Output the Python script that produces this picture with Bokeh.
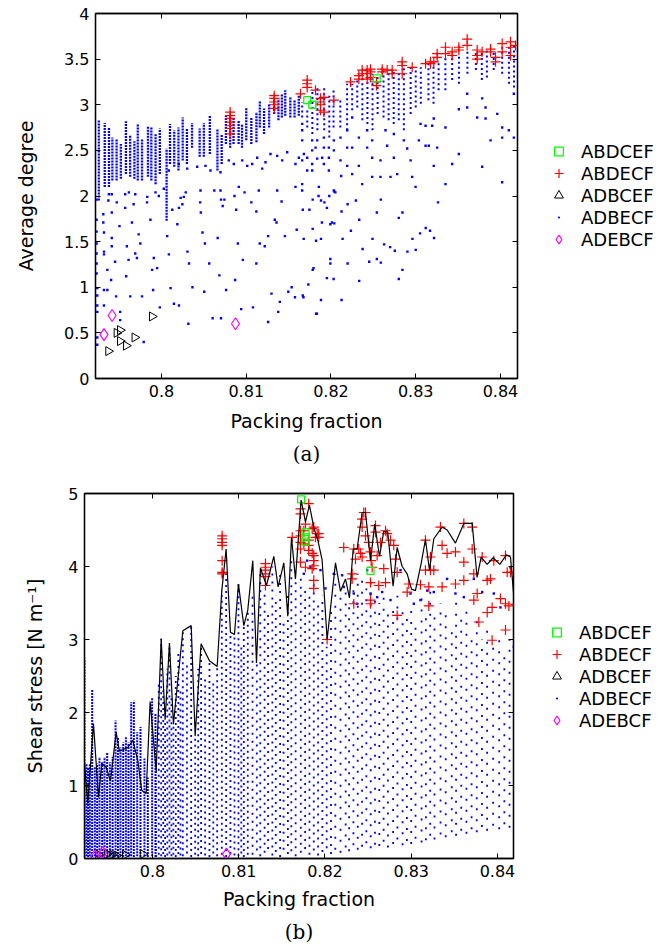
import math
from bokeh.plotting import figure
from bokeh.models import (Range1d, LinearAxis, FixedTicker, Legend, LegendItem,
                          Title, CustomJSTickFormatter)
from bokeh.layouts import column, row
from bokeh.embed import file_html
from bokeh.resources import INLINE

# ------------------------------------------------------------------ data
SERIES = ["ABDCEF", "ABDECF", "ADBCEF", "ADBECF", "ADEBCF"]
X_TICKS = [0.80, 0.81, 0.82, 0.83, 0.84]
X_TICK_LABELS = ["0.8", "0.81", "0.82", "0.83", "0.84"]
A_Y_TICKS = [0, 0.5, 1, 1.5, 2, 2.5, 3, 3.5, 4]
A_Y_TICK_LABELS = ["0", "0.5", "1", "1.5", "2", "2.5", "3", "3.5", "4"]
B_Y_TICKS = [0, 1, 2, 3, 4, 5]
B_Y_TICK_LABELS = ["0", "1", "2", "3", "4", "5"]

# ---- panel (a): average degree
# ADBECF, densely filled columns (packing fraction, lowest, highest value)
A_DENSE_X = [0.7926, 0.7933, 0.7938, 0.7942, 0.7947, 0.7952, 0.7958, 0.7963, 0.7968, 0.7972,
             0.7977, 0.7984, 0.7988, 0.7993, 0.7998, 0.8006, 0.8010, 0.8015, 0.8020, 0.8025,
             0.8030, 0.8036, 0.8045, 0.8050, 0.8057, 0.8066, 0.8071, 0.8076, 0.8081, 0.8085,
             0.8091, 0.8095, 0.8100, 0.8106, 0.8112, 0.8116, 0.8121, 0.8127, 0.8133, 0.8138,
             0.8142, 0.8146, 0.8152, 0.8157, 0.8162]
A_DENSE_LO = [1.95, 2.10, 2.10, 2.17, 2.17, 2.19, 2.24, 2.21, 2.19, 2.17,
              2.17, 2.21, 2.17, 2.13, 2.24, 1.73, 2.35, 2.32, 2.28, 2.39,
              2.35, 2.53, 2.43, 2.43, 2.46, 2.28, 2.35, 2.57, 2.53, 2.57,
              2.57, 2.53, 2.61, 2.57, 2.59, 2.75, 2.68, 2.75, 2.90, 2.83,
              2.86, 2.88, 2.86, 2.86, 2.88]
A_DENSE_HI = [2.83, 2.80, 2.75, 2.64, 2.63, 2.57, 2.82, 2.66, 2.60, 2.79,
              2.63, 2.77, 2.75, 2.68, 2.74, 2.52, 2.79, 2.72, 2.75, 2.86,
              2.74, 2.80, 2.74, 2.80, 2.88, 2.74, 2.68, 2.88, 2.87, 2.86,
              2.83, 2.79, 2.97, 2.86, 2.92, 3.04, 2.96, 3.01, 3.08, 3.07,
              3.12, 3.16, 3.08, 3.05, 3.10]
# ADBECF, looser columns at high packing fraction
A_COL_X = [0.8166, 0.8172, 0.8178, 0.8184, 0.8192, 0.8198, 0.8203, 0.8211, 0.8219, 0.8225,
           0.8231, 0.8237, 0.8243, 0.8249, 0.8255, 0.8262, 0.8268, 0.8274, 0.8280, 0.8286,
           0.8294, 0.8300, 0.8306, 0.8315, 0.8321, 0.8327, 0.8335, 0.8343, 0.8351, 0.8361,
           0.8371, 0.8378, 0.8384, 0.8392, 0.8402, 0.8410, 0.8416]
A_COL_LO = [2.86, 2.75, 2.68, 2.72, 2.72, 2.64, 2.75, 2.75, 2.72, 2.94,
            2.97, 2.83, 2.79, 2.72, 2.90, 2.86, 2.83, 2.79, 2.83, 2.72,
            2.90, 2.97, 3.01, 3.05, 3.01, 3.16, 3.16, 3.27, 3.23, 3.34,
            3.38, 3.27, 3.30, 3.38, 3.34, 3.23, 3.19]
A_COL_HI = [3.03, 2.97, 3.17, 3.19, 3.19, 3.10, 3.19, 3.08, 3.23, 3.23,
            3.30, 3.30, 3.34, 3.34, 3.34, 3.38, 3.38, 3.38, 3.38, 3.41,
            3.41, 3.41, 3.41, 3.45, 3.45, 3.49, 3.52, 3.54, 3.56, 3.60,
            3.60, 3.60, 3.60, 3.60, 3.63, 3.63, 3.67]
# ADBECF, isolated points
A_DOTS = [
    (0.79234, 1.96), (0.79234, 1.74), (0.79234, 1.61), (0.79234, 1.48), (0.79234, 1.37),
    (0.79234, 1.26), (0.79234, 1.15), (0.79242, 0.99), (0.79242, 0.91), (0.79242, 0.80),
    (0.79242, 0.73), (0.79242, 0.45), (0.79242, 0.37), (0.79313, 1.80), (0.79313, 1.71),
    (0.79321, 1.60), (0.79321, 1.39), (0.79321, 1.36), (0.79321, 0.97), (0.79321, 0.80),
    (0.79373, 1.95), (0.79361, 1.19), (0.79361, 0.97), (0.79413, 2.02), (0.79413, 1.82),
    (0.79413, 1.54), (0.79413, 1.45), (0.79405, 1.08), (0.79452, 1.28), (0.79464, 0.90),
    (0.79472, 1.93), (0.79504, 1.67), (0.79512, 0.73), (0.79512, 0.64), (0.79571, 2.02),
    (0.79571, 1.87), (0.79583, 1.12), (0.79591, 1.45), (0.79611, 1.30), (0.79631, 0.90),
    (0.79651, 1.71), (0.79671, 1.91), (0.79690, 2.02), (0.79690, 1.37), (0.79710, 1.32),
    (0.79730, 1.58), (0.79750, 1.48), (0.79770, 0.90), (0.79790, 0.40), (0.79829, 1.93),
    (0.79869, 1.74), (0.79889, 1.19), (0.79901, 0.97), (0.79909, 1.32), (0.79948, 1.21),
    (0.79929, 2.04), (0.79968, 2.00), (0.79980, 0.78), (0.80067, 1.56), (0.80087, 1.36),
    (0.80107, 0.99), (0.80147, 0.82), (0.80127, 1.85), (0.80187, 1.69), (0.80206, 1.87),
    (0.80226, 1.98), (0.80206, 0.80), (0.80246, 1.91), (0.80286, 2.04), (0.80306, 1.39),
    (0.80317, 0.60), (0.80325, 1.26), (0.80365, 1.00), (0.80456, 1.93), (0.80464, 1.82),
    (0.80484, 1.60), (0.80504, 0.95), (0.80512, 1.48), (0.80563, 1.26), (0.80603, 0.66),
    (0.80623, 2.06), (0.80663, 1.54), (0.80683, 1.13), (0.80702, 0.66), (0.80702, 1.96),
    (0.80722, 1.89), (0.80742, 1.96), (0.80762, 0.97), (0.80861, 2.00), (0.80869, 1.08),
    (0.80881, 1.85), (0.80901, 1.48), (0.80940, 0.76), (0.80960, 1.30), (0.80980, 2.04),
    (0.81060, 1.93), (0.81079, 0.78), (0.81119, 1.83), (0.81119, 1.26), (0.81159, 1.48),
    (0.81218, 1.45), (0.81258, 1.56), (0.81258, 0.62), (0.81298, 0.93), (0.81337, 1.74),
    (0.81357, 1.71), (0.81377, 0.73), (0.81397, 0.84), (0.81417, 1.94), (0.81456, 1.56),
    (0.81496, 0.95), (0.81536, 1.00), (0.81575, 0.89), (0.81595, 1.63), (0.81675, 0.89),
    (0.81794, 1.21), (0.81833, 0.71), (0.81853, 2.00), (0.81893, 1.71), (0.81952, 1.87),
    (0.82012, 1.71), (0.81952, 1.10), (0.81992, 1.26), (0.82052, 2.04),
    (0.81667, 1.85), (0.81745, 1.85), (0.81784, 1.96), (0.81882, 1.95), (0.81922, 1.93),
    (0.81980, 2.00), (0.82039, 2.05), (0.81678, 1.53), (0.81784, 1.64), (0.81824, 1.51),
    (0.81882, 1.53), (0.81992, 1.69), (0.82039, 1.70), (0.82125, 1.83), (0.82196, 1.91),
    (0.82294, 1.95), (0.82137, 1.53), (0.82235, 1.62), (0.82333, 1.74), (0.82541, 1.82),
    (0.82588, 1.96), (0.82490, 1.53), (0.82373, 1.42), (0.82451, 1.28), (0.82541, 1.31),
    (0.82588, 1.27), (0.82627, 1.47), (0.82698, 1.44), (0.82753, 1.40), (0.82800, 1.76),
    (0.82843, 1.82), (0.82961, 1.53), (0.82902, 1.39), (0.83000, 1.41), (0.83051, 1.59),
    (0.83118, 1.65), (0.83169, 1.62), (0.83216, 1.54), (0.83263, 1.93), (0.81992, 1.31),
    (0.82196, 1.26), (0.81784, 1.19), (0.81733, 1.03), (0.82031, 1.09), (0.82333, 1.07),
    (0.81667, 0.91), (0.81882, 0.86), (0.82125, 0.86), (0.81824, 0.71), (0.82843, 1.19),
    (0.82800, 1.09),
    (0.81660, 2.79), (0.81660, 2.72), (0.81660, 2.61), (0.81660, 2.39), (0.81660, 2.13),
    (0.81719, 2.42), (0.81719, 2.28), (0.81778, 2.61), (0.81778, 2.50), (0.81778, 2.28),
    (0.81837, 2.61), (0.81837, 2.41), (0.81857, 2.10), (0.81916, 2.64), (0.81916, 2.53),
    (0.81916, 2.35), (0.81975, 2.53), (0.81975, 2.42), (0.81975, 2.28), (0.82034, 2.61),
    (0.82034, 2.50), (0.82034, 2.06), (0.82112, 2.64), (0.82112, 2.39), (0.82120, 2.22),
    (0.82191, 2.72), (0.82191, 2.53), (0.82191, 2.33), (0.82250, 2.86), (0.82250, 2.53),
    (0.82250, 2.24), (0.82329, 2.64), (0.82329, 2.33), (0.82368, 2.13), (0.82427, 2.72),
    (0.82427, 2.53), (0.82486, 2.61), (0.82486, 2.42), (0.82486, 2.21), (0.82584, 2.39),
    (0.82584, 2.21), (0.82643, 2.72), (0.82663, 2.55), (0.82702, 2.21), (0.82742, 2.68),
    (0.82742, 2.42), (0.82781, 2.24), (0.82860, 2.61), (0.82899, 2.52), (0.82939, 2.39),
    (0.82958, 2.21), (0.82998, 2.10), (0.83037, 2.61), (0.83057, 2.79), (0.83116, 2.55),
    (0.83116, 2.77), (0.83154, 2.55), (0.83194, 2.77), (0.83213, 2.85), (0.83213, 2.33),
    (0.83253, 2.53), (0.83351, 2.75), (0.83351, 2.13), (0.83430, 2.35), (0.83509, 2.95),
    (0.83509, 2.46), (0.83607, 3.12), (0.83607, 2.97), (0.83725, 2.86), (0.83784, 3.07),
    (0.83784, 2.32), (0.83824, 2.97), (0.83824, 2.85), (0.83883, 2.61), (0.83962, 2.90),
    (0.84020, 2.75), (0.84020, 2.64), (0.84020, 2.15), (0.84099, 2.72), (0.84158, 2.64),
    (0.84158, 3.12),
    (0.80086, 2.28), (0.80204, 2.35), (0.80303, 2.30), (0.80421, 2.32), (0.80519, 2.33),
    (0.80578, 2.28), (0.80696, 2.26), (0.80794, 2.39), (0.80853, 2.35), (0.80952, 2.39),
    (0.81011, 2.33), (0.81070, 2.35), (0.81129, 2.42), (0.81188, 2.30), (0.81227, 2.37),
    (0.81286, 2.46), (0.81365, 2.44), (0.81424, 2.39), (0.81483, 2.48), (0.81581, 2.35),
    (0.81621, 2.42), (0.81680, 2.46), (0.81778, 2.35), (0.81818, 2.53), (0.81896, 2.42),
    (0.79379, 2.02), (0.79615, 2.04), (0.79832, 1.99), (0.80027, 2.08), (0.80263, 1.99),
    (0.80460, 2.06), (0.80696, 2.06), (0.80912, 2.10), (0.81148, 2.06), (0.81365, 2.06),
    (0.81581, 2.10), (0.81660, 2.06),
]
# ABDECF
A_RED = [
    (0.8081, 2.92), (0.8081, 2.88), (0.8081, 2.85), (0.8081, 2.81), (0.8081, 2.77),
    (0.8081, 2.74), (0.8081, 2.68), (0.8133, 3.10), (0.8133, 3.07), (0.8133, 3.03),
    (0.8133, 3.00), (0.8133, 2.96),
    (0.81719, 3.27), (0.81719, 3.23), (0.81719, 3.19), (0.81817, 3.16), (0.81640, 3.12),
    (0.81876, 3.07), (0.81876, 3.03), (0.81876, 3.00), (0.81876, 2.94), (0.81916, 3.08),
    (0.81916, 2.92), (0.82034, 3.05), (0.82231, 3.25), (0.82329, 3.32), (0.82329, 3.28),
    (0.82368, 3.38), (0.82368, 3.34), (0.82427, 3.38), (0.82427, 3.34), (0.82427, 3.28),
    (0.82466, 3.39), (0.82466, 3.36), (0.82466, 3.30), (0.82537, 3.25), (0.82537, 3.21),
    (0.82604, 3.39), (0.82604, 3.36), (0.82663, 3.38), (0.82722, 3.38), (0.82722, 3.34),
    (0.82840, 3.47), (0.82840, 3.43), (0.82840, 3.34), (0.82958, 3.41), (0.83116, 3.45),
    (0.83174, 3.47), (0.83174, 3.45), (0.83213, 3.47), (0.83253, 3.56), (0.83253, 3.52),
    (0.83351, 3.63), (0.83351, 3.56), (0.83430, 3.58), (0.83430, 3.54), (0.83509, 3.63),
    (0.83509, 3.60), (0.83607, 3.72), (0.83607, 3.65), (0.83725, 3.60), (0.83725, 3.54),
    (0.83725, 3.50), (0.83784, 3.58), (0.83883, 3.61), (0.83883, 3.58), (0.83942, 3.52),
    (0.83942, 3.47), (0.84020, 3.67), (0.84020, 3.58), (0.84119, 3.69), (0.84119, 3.63),
    (0.84119, 3.54), (0.84178, 3.65),
]
A_GREEN = [(0.8172, 3.05), (0.8178, 3.00), (0.8254, 3.29)]                  # ABDCEF
A_TRI = [(0.79373, 0.30), (0.79472, 0.50), (0.79512, 0.53), (0.79512, 0.41),
         (0.79583, 0.36), (0.79683, 0.45), (0.79889, 0.68)]                  # ADBCEF
A_DIA = [(0.79321, 0.48), (0.79417, 0.69), (0.80873, 0.60)]                  # ADEBCF

# ---- panel (b): shear stress
B_DENSE_X = [0.79211, 0.79235, 0.79254, 0.79274, 0.79301, 0.79332, 0.79359, 0.79386, 0.79417,
             0.79444, 0.79475, 0.79507, 0.79538, 0.79572, 0.79600, 0.79629, 0.79661, 0.79692,
             0.79722, 0.79753, 0.79784, 0.79823, 0.79861, 0.79907, 0.79946, 0.79996, 0.80035]
B_DENSE_LO = [0.02, 0.03, 0.02, 0.03, 0.02, 0.03, 0.02, 0.03, 0.02,
              0.03, 0.02, 0.03, 0.02, 0.03, 0.02, 0.03, 0.02, 0.03,
              0.02, 0.03, 0.02, 0.03, 0.02, 0.03, 0.02, 0.03, 0.02]
B_DENSE_HI = [2.75, 1.30, 1.25, 1.30, 2.32, 1.25, 1.30, 1.39, 1.32,
              1.39, 1.46, 1.32, 1.39, 1.89, 1.66, 1.52, 1.59, 1.66,
              1.59, 2.14, 2.16, 1.73, 1.80, 1.37, 1.11, 2.20, 1.98]
B_MED_X = [0.80043, 0.80073, 0.80101, 0.80125, 0.80147, 0.80172, 0.80197, 0.80220, 0.80243,
           0.80270, 0.80300, 0.80325, 0.80352, 0.80400, 0.80449, 0.80495, 0.80530, 0.80564,
           0.80610, 0.80661, 0.80705, 0.80750, 0.80804, 0.80854, 0.80904, 0.80951, 0.80997,
           0.81030, 0.81059, 0.81105]
B_MED_LO = [0.02, 0.05, 0.03, 0.06, 0.02, 0.04, 0.07, 0.03, 0.05, 0.02,
            0.06, 0.04, 0.03, 0.07, 0.02, 0.05, 0.03, 0.06, 0.04, 0.02,
            0.07, 0.03, 0.05, 0.02, 0.06, 0.04, 0.03, 0.07, 0.02, 0.05]
B_MED_HI = [1.20, 2.40, 3.01, 2.30, 1.90, 2.60, 2.95, 2.20, 1.84, 2.50,
            2.80, 2.30, 3.12, 2.70, 3.19, 1.68, 2.60, 2.94, 2.50, 2.71,
            2.40, 2.63, 3.67, 3.90, 3.10, 3.07, 3.76, 2.90, 3.19, 3.40]
B_SPARSE_X = [0.8116, 0.8121, 0.8125, 0.8130, 0.8134, 0.8139, 0.8143, 0.8148, 0.8152, 0.8157,
              0.8161, 0.8166, 0.8172, 0.8177, 0.8182, 0.8187, 0.8192, 0.8197, 0.8202, 0.8207,
              0.8212, 0.8218, 0.8224, 0.8228, 0.8233, 0.8238, 0.8243, 0.8248, 0.8253, 0.8258,
              0.8263, 0.8268, 0.8273, 0.8279, 0.8284, 0.8290, 0.8295, 0.8300, 0.8305, 0.8312,
              0.8317, 0.8322, 0.8327, 0.8334, 0.8340, 0.8347, 0.8352, 0.8358, 0.8364, 0.8370,
              0.8376, 0.8382, 0.8388, 0.8395, 0.8402, 0.8408, 0.8414, 0.8419]
B_SPARSE_LO = [0.05, 0.11, 0.03, 0.08, 0.13, 0.04, 0.09, 0.02, 0.12, 0.06,
               0.10, 0.03, 0.08, 0.13, 0.05, 0.11, 0.04, 0.09, 0.14, 0.06,
               0.12, 0.08, 0.15, 0.10, 0.18, 0.12, 0.16, 0.21, 0.14, 0.19,
               0.17, 0.23, 0.15, 0.20, 0.26, 0.18, 0.24, 0.20, 0.27, 0.22,
               0.25, 0.31, 0.26, 0.33, 0.29, 0.36, 0.31, 0.38, 0.34, 0.40,
               0.36, 0.43, 0.38, 0.45, 0.40, 0.47, 0.42, 0.48]
B_SPARSE_HI = [3.60, 2.70, 3.90, 3.70, 3.40, 4.00, 3.60, 3.90, 3.30, 3.60,
               4.10, 3.80, 3.90, 3.70, 3.60, 3.80, 3.50, 3.60, 2.90, 3.40,
               3.90, 3.60, 3.70, 3.50, 3.80, 3.90, 3.85, 3.70, 3.80, 3.60,
               3.50, 3.70, 3.40, 3.50, 3.60, 3.40, 3.30, 3.50, 3.20, 3.60,
               3.40, 3.70, 3.30, 3.50, 3.40, 3.20, 3.60, 3.30, 3.40, 3.10,
               3.30, 3.00, 3.20, 2.90, 3.10, 2.80, 3.00, 3.20]
B_DOTS = [
    (0.81755, 3.90), (0.81793, 4.08), (0.81832, 3.99), (0.81948, 3.95), (0.82006, 3.70),
    (0.82102, 3.90), (0.82199, 3.88), (0.82218, 3.72), (0.82334, 3.63), (0.82373, 3.49),
    (0.82489, 3.95), (0.82528, 3.63), (0.82605, 3.58), (0.82663, 3.65), (0.82760, 3.54),
    (0.82876, 3.95), (0.82991, 3.63), (0.83030, 3.49), (0.83107, 3.54), (0.83185, 3.67),
    (0.83262, 3.65), (0.83416, 3.83), (0.83513, 3.63), (0.83610, 3.58), (0.83726, 3.83),
    (0.83823, 3.65), (0.83958, 3.63), (0.84035, 3.44), (0.84151, 3.99), (0.84190, 2.90),
]
# maximum shear stress per packing fraction (black line)
B_MAX_X = [0.79212, 0.79250, 0.79316, 0.79374, 0.79413, 0.79463, 0.79513, 0.79579, 0.79617,
           0.79675, 0.79714, 0.79772, 0.79830, 0.79876, 0.79927, 0.79973, 0.80043, 0.80101,
           0.80147, 0.80197, 0.80243, 0.80352, 0.80449, 0.80495, 0.80564, 0.80661, 0.80750,
           0.80804, 0.80854, 0.80904, 0.80951, 0.80997, 0.81059, 0.81105, 0.81163, 0.81206,
           0.81252, 0.81322, 0.81407, 0.81457, 0.81523, 0.81569, 0.81612, 0.81658, 0.81724,
           0.81774, 0.81820, 0.81870, 0.81917, 0.81967, 0.82025, 0.82122, 0.82180, 0.82238,
           0.82284, 0.82327, 0.82373, 0.82431, 0.82470, 0.82528, 0.82577, 0.82632, 0.82682,
           0.82728, 0.82790, 0.82837, 0.82895, 0.82953, 0.83003, 0.83049, 0.83115, 0.83165,
           0.83212, 0.83262, 0.83359, 0.83417, 0.83513, 0.83610, 0.83707, 0.83764, 0.83811,
           0.83880, 0.83950, 0.84027, 0.84104, 0.84151, 0.84197]
B_MAX_Y = [1.30, 0.75, 1.85, 0.84, 1.30, 1.25, 1.06, 1.73, 1.47,
           1.50, 1.52, 1.62, 1.34, 0.93, 0.89, 2.15, 1.20, 3.01,
           1.90, 2.95, 1.84, 3.12, 3.19, 1.68, 2.94, 2.71, 2.63,
           3.67, 4.24, 3.10, 3.07, 3.76, 3.19, 3.40, 4.08, 2.68,
           3.98, 3.74, 4.14, 3.72, 4.05, 3.32, 4.40, 3.83, 4.91,
           4.61, 4.84, 4.54, 4.36, 4.09, 3.00, 4.05, 3.66, 3.83,
           3.57, 4.24, 4.24, 4.74, 4.74, 4.08, 4.58, 4.14, 4.48,
           4.47, 3.73, 4.26, 4.00, 3.90, 3.69, 3.67, 4.04, 4.37,
           3.95, 4.38, 4.54, 4.50, 4.32, 4.59, 4.59, 3.85, 4.13,
           4.03, 4.12, 4.03, 4.16, 4.13, 3.49]
B_RED = [
    (0.80808, 4.42), (0.80808, 4.38), (0.80808, 4.33), (0.80808, 4.29), (0.80808, 4.08),
    (0.80808, 3.92), (0.80808, 3.90), (0.81310, 4.04), (0.81310, 3.99), (0.81310, 3.95),
    (0.81310, 3.90), (0.81310, 3.86), (0.81310, 3.74), (0.81620, 4.40), (0.81716, 4.79),
    (0.81716, 4.72), (0.81716, 4.49), (0.81716, 4.42), (0.81716, 4.33), (0.81716, 4.24),
    (0.81716, 4.06), (0.81774, 3.99), (0.81774, 4.58), (0.81812, 4.86), (0.81812, 4.36),
    (0.81812, 4.29), (0.81812, 4.22), (0.81870, 4.15), (0.81870, 4.08), (0.81870, 4.01),
    (0.81870, 3.81), (0.81870, 3.70), (0.81870, 4.54), (0.81928, 4.45), (0.81928, 4.40),
    (0.82025, 3.00),
    (0.81755, 4.49), (0.81755, 4.31), (0.81852, 4.18), (0.81852, 3.97), (0.81890, 4.40),
    (0.81852, 4.52), (0.81910, 4.45),
    (0.82218, 4.26), (0.82334, 4.24), (0.82354, 4.10), (0.82392, 4.24), (0.82412, 4.18),
    (0.82431, 4.13), (0.82450, 4.74), (0.82431, 4.65), (0.82470, 4.74), (0.82431, 4.54),
    (0.82470, 4.42), (0.82508, 4.33), (0.82528, 4.20), (0.82535, 4.08), (0.82547, 3.99),
    (0.82528, 3.78), (0.82528, 3.54), (0.82528, 3.49), (0.82586, 4.56), (0.82586, 4.47),
    (0.82605, 4.15), (0.82624, 3.74), (0.82644, 4.33), (0.82682, 3.97), (0.82702, 3.78),
    (0.82702, 4.49), (0.82721, 4.45), (0.82760, 4.36), (0.82798, 4.29), (0.82818, 4.10),
    (0.82837, 3.92), (0.82837, 3.33), (0.82972, 3.76), (0.82953, 3.65), (0.83107, 3.75),
    (0.83165, 4.36), (0.83165, 3.95), (0.83204, 3.72), (0.83223, 4.13), (0.83223, 3.95),
    (0.83262, 3.95), (0.83204, 3.46), (0.83339, 4.54), (0.83358, 4.29), (0.83358, 3.72),
    (0.83416, 4.18), (0.83513, 4.20), (0.83513, 3.76), (0.83610, 4.59), (0.83610, 4.06),
    (0.83610, 3.81), (0.83707, 4.54), (0.83707, 4.24), (0.83726, 3.90), (0.83726, 3.54),
    (0.83765, 3.63), (0.83784, 3.24), (0.83823, 4.13), (0.83881, 3.81), (0.83919, 3.83),
    (0.83881, 3.37), (0.83938, 3.44), (0.83938, 2.99), (0.83958, 4.08), (0.84035, 3.56),
    (0.84093, 3.13), (0.84093, 4.15), (0.84093, 3.49), (0.84113, 3.92), (0.84151, 3.92),
    (0.84132, 3.46), (0.84209, 3.48), (0.82315, 3.90), (0.82315, 3.83), (0.82334, 3.49),
]
B_GREEN = [(0.81724, 4.92), (0.81774, 4.47), (0.81774, 4.40), (0.81774, 4.34), (0.82528, 3.94)]
B_TRI = [(0.79373, 0.05), (0.79472, 0.06), (0.79512, 0.04), (0.79536, 0.05),
         (0.79583, 0.04), (0.79683, 0.05), (0.79889, 0.06)]
B_DIA = [(0.79331, 0.03), (0.79424, 0.08), (0.80858, 0.06)]

# ------------------------------------------------------------------ style
SANS = "DejaVu Sans"
SERIF = "DejaVu Serif"
BLUE, RED, GREEN, MAGENTA = "#0000ff", "#ff0000", "#00ff00", "#ff00ff"
NONE = [float("nan")]          # key-only renderers carry no visible point
RIGHTWARD = -math.pi / 2       # triangles point to the right


def xs(pairs):
    return [q[0] for q in pairs]


def ys(pairs):
    return [q[1] for q in pairs]


def frame_axes(p, yticks, ylabels, ylabel, ystandoff):
    xa = p.xaxis[0]
    ya = p.yaxis[0]
    xa.ticker = FixedTicker(ticks=X_TICKS)
    xa.major_label_overrides = {t: s for t, s in zip(X_TICKS, X_TICK_LABELS)}
    ya.ticker = FixedTicker(ticks=yticks)
    ya.major_label_overrides = {t: s for t, s in zip(yticks, ylabels)}
    ya.axis_label = ylabel
    blank = CustomJSTickFormatter(code="return ''")
    top = LinearAxis(ticker=FixedTicker(ticks=X_TICKS), formatter=blank,
                     major_label_text_font_size="0px", major_label_standoff=0)
    right = LinearAxis(ticker=FixedTicker(ticks=yticks), formatter=blank,
                       major_label_text_font_size="0px", major_label_standoff=0)
    p.add_layout(top, "above")
    p.add_layout(right, "right")
    for ax in (xa, ya, top, right):
        ax.major_tick_in = 5
        ax.major_tick_out = 0
        ax.minor_tick_line_color = None
        ax.axis_line_color = "black"
        ax.axis_line_width = 1.3
        ax.major_tick_line_color = "black"
        ax.major_tick_line_width = 1
        ax.major_label_text_color = "black"
        ax.major_label_text_font = SANS
        ax.axis_label_text_font = SANS
        ax.axis_label_text_font_size = "19px"
        ax.axis_label_text_font_style = "normal"
        ax.axis_label_text_color = "black"
    for ax in (xa, ya):
        ax.major_label_text_font_size = "16px"
        ax.major_label_standoff = 6
    ya.axis_label_standoff = ystandoff
    p.xgrid.visible = False
    p.ygrid.visible = False
    p.outline_line_color = "black"
    p.outline_line_width = 1.3


def bottom_texts(p, caption, shift, s1, s2):
    p.add_layout(Title(text="Packing fraction", align="center", offset=shift,
                       text_font=SANS, text_font_size="19px", text_font_style="normal",
                       text_color="black", standoff=s1), "below")
    p.add_layout(Title(text=caption, align="center", offset=0,
                       text_font=SERIF, text_font_size="20px", text_font_style="normal",
                       text_color="black", standoff=s2), "below")


def markers(p, red, green, tri, dia, dots):
    p.scatter(xs(dots), ys(dots), marker="square", size=2.4,
              fill_color=BLUE, line_color=None)
    p.scatter(xs(red), ys(red), marker="cross", size=10,
              line_color=RED, line_width=1.2)
    p.scatter(xs(green), ys(green), marker="square", size=7,
              fill_color=None, line_color=GREEN, line_width=1.3)
    p.scatter(xs(tri), ys(tri), marker="triangle", size=9, angle=RIGHTWARD,
              fill_color=None, line_color="black", line_width=1)
    p.scatter(xs(dia), ys(dia), marker="diamond", size=12,
              fill_color=None, line_color=MAGENTA, line_width=1.2)


def legend_panel(width, height, loc):
    """A plain side canvas that holds the key of the neighbouring panel."""
    lp = figure(width=width, height=height, x_range=Range1d(0, 1), y_range=Range1d(0, 1),
                x_axis_type=None, y_axis_type=None, title=None, min_border=0,
                output_backend="svg", toolbar_location=None)
    lp.outline_line_color = None
    lp.grid.visible = False
    keys = [
        lp.scatter(NONE, NONE, marker="square", fill_color=None, line_color=GREEN,
                   line_width=1.3),
        lp.scatter(NONE, NONE, marker="cross", line_color=RED, line_width=1.2),
        lp.scatter(x=NONE, y=NONE, angle=[RIGHTWARD], marker="triangle", fill_color=None,
                   line_color="black", line_width=1),
        lp.scatter(NONE, NONE, marker="dot", line_color=BLUE, fill_color=BLUE,
                   line_width=1.5),
        lp.scatter(NONE, NONE, marker="diamond", fill_color=None, line_color=MAGENTA,
                   line_width=1.2),
    ]
    items = [LegendItem(label=s, renderers=[r]) for s, r in zip(SERIES, keys)]
    lg = Legend(items=items, location=loc, border_line_color=None,
                background_fill_alpha=0, label_text_font=SANS,
                label_text_font_size="18px", label_text_color="black",
                glyph_width=25, glyph_height=22, label_height=22,
                spacing=0, padding=0, margin=0, label_standoff=10)
    lp.add_layout(lg)
    return lp


# ------------------------------------------------------------------ panel (a)
pa = figure(frame_width=422, frame_height=365, min_border_left=95, min_border_right=2,
            min_border_top=13, min_border_bottom=88, title=None,
            x_range=Range1d(0.79221, 0.84201), y_range=Range1d(0, 4),
            output_backend="svg", toolbar_location=None)
frame_axes(pa, A_Y_TICKS, A_Y_TICK_LABELS, "Average degree", 24)
pa.segment(A_DENSE_X, A_DENSE_LO, A_DENSE_X, A_DENSE_HI, line_color=BLUE,
           line_width=2.3, line_dash="2 1")
pa.segment(A_COL_X, A_COL_LO, A_COL_X, A_COL_HI, line_color=BLUE,
           line_width=2, line_dash="2 3")
markers(pa, A_RED, A_GREEN, A_TRI, A_DIA, A_DOTS)
bottom_texts(pa, "(a)", -21, 16, 1)
la = legend_panel(151, 466, (27, 128))

# ------------------------------------------------------------------ panel (b)
pb = figure(frame_width=429, frame_height=365, min_border_left=84, min_border_right=2,
            min_border_top=27, min_border_bottom=89, title=None,
            x_range=Range1d(0.79212, 0.84186), y_range=Range1d(0, 5),
            output_backend="svg", toolbar_location=None)
frame_axes(pb, B_Y_TICKS, B_Y_TICK_LABELS, "Shear stress [N m\u207b\u00b9]", 19)
pb.segment(B_DENSE_X, B_DENSE_LO, B_DENSE_X, B_DENSE_HI, line_color=BLUE,
           line_width=2, line_dash="2 1")
pb.segment(B_MED_X, B_MED_LO, B_MED_X, B_MED_HI, line_color=BLUE,
           line_width=1.8, line_dash="2 4")
pb.segment(B_SPARSE_X[:20], B_SPARSE_LO[:20], B_SPARSE_X[:20], B_SPARSE_HI[:20],
           line_color=BLUE, line_width=1.8, line_dash="2 6")
pb.segment(B_SPARSE_X[20:], B_SPARSE_LO[20:], B_SPARSE_X[20:], B_SPARSE_HI[20:],
           line_color=BLUE, line_width=1.8, line_dash="2 9")
markers(pb, B_RED, B_GREEN, B_TRI, B_DIA, B_DOTS)
pb.line(B_MAX_X, B_MAX_Y, line_color="black", line_width=1.2)
bottom_texts(pb, "(b)", -22, 13, 3)
lb = legend_panel(155, 481, (29, 127))

layout = column(row(pa, la, spacing=0), row(pb, lb, spacing=0), spacing=0)
open("out.html", "w").write(file_html(layout, INLINE))
